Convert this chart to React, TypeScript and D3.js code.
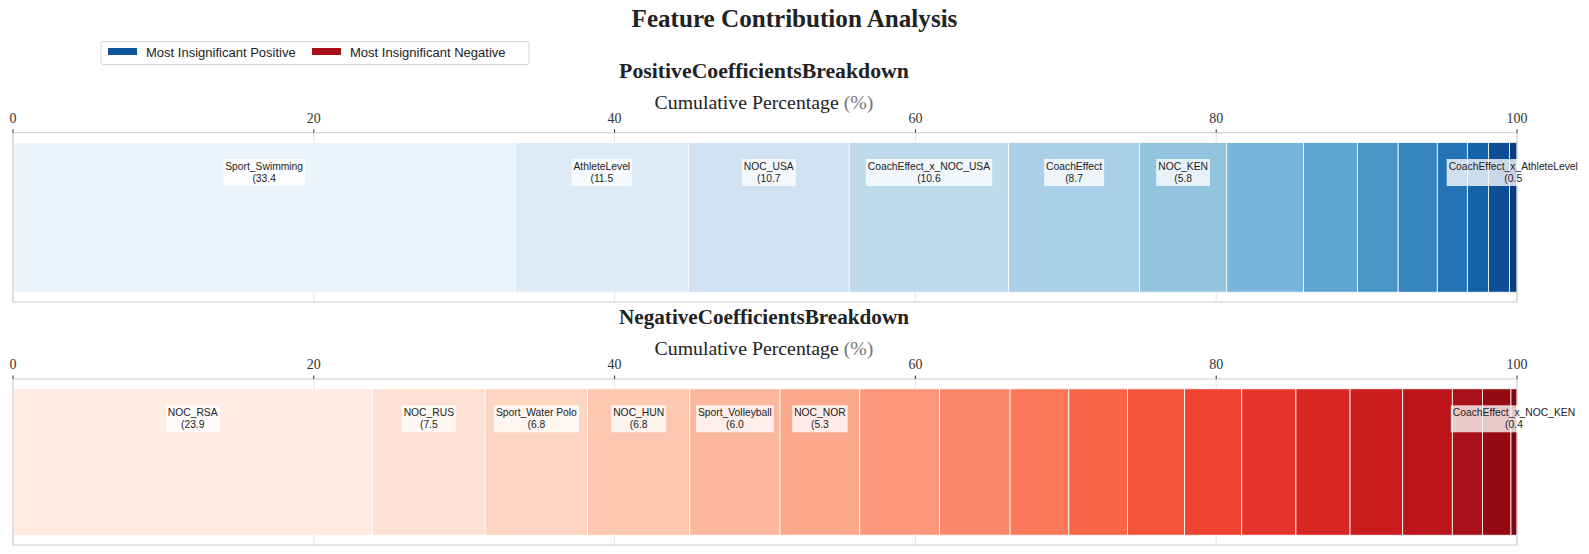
import React, { useEffect, useRef } from 'react';
import * as d3 from 'd3';

// share of each coefficient, in %, largest first (the last one is the "most insignificant")
const posNames = ['Sport_Swimming', 'AthleteLevel', 'NOC_USA', 'CoachEffect_x_NOC_USA', 'CoachEffect', 'NOC_KEN',
  '', '', '', '', '', '', '', 'CoachEffect_x_AthleteLevel'];
const posValues = [33.4, 11.5, 10.7, 10.6, 8.7, 5.8, 5.1, 3.6, 2.7, 2.6, 2.0, 1.4, 1.4, 0.5];

const negNames = ['NOC_RSA', 'NOC_RUS', 'Sport_Water Polo', 'NOC_HUN', 'Sport_Volleyball', 'NOC_NOR',
  '', '', '', '', '', '', '', '', '', '', '', '', 'CoachEffect_x_NOC_KEN'];
const negValues = [23.9, 7.5, 6.8, 6.8, 6.0, 5.3, 5.3, 4.7, 3.9, 3.9, 3.8, 3.8, 3.6, 3.6, 3.5, 3.3, 2.0, 1.9, 0.4];

const xTicks = [0, 20, 40, 60, 80, 100];
const legendLabels = ['Most Insignificant Positive', 'Most Insignificant Negative'];

const W = 1589;
const H = 554;
const SERIF = '"Liberation Serif", "DejaVu Serif", serif';
const SANS = '"Liberation Sans", Arial, sans-serif';

// shrink/grow a text node's font so it spans the wanted width
function fit(t: d3.Selection<SVGTextElement, unknown, null, undefined>, width: number, base: number) {
  t.attr('font-size', base);
  const w = (t.node() as SVGTextElement).getComputedTextLength();
  const size = w > 0 ? (base * width) / w : base;
  t.attr('font-size', size);
  return size;
}

export default function App() {
  const ref = useRef<SVGSVGElement>(null);

  useEffect(() => {
    if (!ref.current) return;
    const svg = d3.select(ref.current);
    svg.selectAll('*').remove();

    const x = d3.scaleLinear().domain([0, 100]).range([13, 1517]);

    const title = svg.append('text')
      .attr('x', W / 2).attr('y', 27)
      .attr('text-anchor', 'middle').attr('font-family', SERIF).attr('font-weight', 'bold')
      .attr('fill', '#222').text('Feature Contribution Analysis');
    fit(title, 326, 20);

    // legend
    const lg = svg.append('g');
    lg.append('rect').attr('x', 101).attr('y', 41.5).attr('width', 428).attr('height', 23)
      .attr('rx', 2).attr('fill', '#fff').attr('stroke', '#cccccc').attr('stroke-width', 0.8);
    const legendColors = [d3.interpolateBlues(0.86), d3.interpolateReds(0.86)];
    const legendX = [108, 312];
    let legendSize = 12;
    legendLabels.forEach((lab, i) => {
      lg.append('rect').attr('x', legendX[i]).attr('y', 48).attr('width', 29).attr('height', 7)
        .attr('fill', legendColors[i]);
      const t = lg.append('text').attr('x', legendX[i] + 38).attr('y', 57)
        .attr('font-family', SANS).attr('fill', '#222').text(lab);
      if (i === 0) legendSize = fit(t, 150, 12);
      else t.attr('font-size', legendSize);
    });

    const panel = (
      names: string[], values: number[], interp: (t: number) => string,
      heading: string, top: number, bottom: number, titleY: number,
    ) => {
      const g = svg.append('g');
      const total = d3.sum(values);
      const cum = d3.cumsum(values).map((c) => (c / total) * 100);
      const starts = cum.map((c, i) => (i === 0 ? 0 : cum[i - 1]));
      const n = values.length;
      const color = (i: number) => interp(0.06 + (0.89 * i) / (n - 1));

      const h = g.append('text').attr('x', 764).attr('y', titleY)
        .attr('text-anchor', 'middle').attr('font-family', SERIF).attr('font-weight', 'bold')
        .attr('fill', '#222').text(heading);
      fit(h, 290, 18);

      const al = g.append('text').attr('x', 764).attr('y', titleY + 31)
        .attr('text-anchor', 'middle').attr('font-family', SERIF).attr('fill', '#222');
      al.append('tspan').text('Cumulative Percentage ');
      al.append('tspan').attr('fill', '#777').text('(%)');
      fit(al, 219, 17);

      // grid
      g.selectAll('line.grid').data(xTicks).enter().append('line')
        .attr('x1', (d) => x(d)).attr('x2', (d) => x(d))
        .attr('y1', top).attr('y2', bottom)
        .attr('stroke', '#dddddd').attr('stroke-width', 0.8);

      const barTop = top + 9.8;
      const barH = bottom - top - 19.6;
      g.selectAll('rect.seg').data(values).enter().append('rect')
        .attr('x', (_, i) => x(starts[i]))
        .attr('width', (_, i) => x(cum[i]) - x(starts[i]))
        .attr('y', barTop).attr('height', barH)
        .attr('fill', (_, i) => color(i))
        .attr('stroke', '#ffffff').attr('stroke-width', 0.8);

      // frame
      g.append('rect').attr('x', x(0)).attr('y', top).attr('width', x(100) - x(0))
        .attr('height', bottom - top).attr('fill', 'none').attr('stroke', '#cccccc').attr('stroke-width', 1);

      // ticks on top
      xTicks.forEach((d) => {
        g.append('line').attr('x1', x(d)).attr('x2', x(d)).attr('y1', top).attr('y2', top - 3.5)
          .attr('stroke', '#000').attr('stroke-width', 0.8);
        g.append('text').attr('x', x(d)).attr('y', top - 10).attr('text-anchor', 'middle')
          .attr('font-family', SERIF).attr('font-size', 14).attr('fill', '#333').text(d);
      });

      // labels: the six largest and the last one
      const lab = g.append('g');
      values.forEach((v, i) => {
        if (!(i < 6 || i === n - 1)) return;
        const cx = x((starts[i] + cum[i]) / 2);
        const cy = barTop + 30;
        const bg = lab.append('rect').attr('fill', '#ffffff').attr('fill-opacity', 0.78);
        const t = lab.append('text').attr('text-anchor', 'middle').attr('font-family', SANS)
          .attr('font-size', 10.3).attr('fill', '#222');
        t.append('tspan').attr('x', cx).attr('y', cy - 2.5).text(names[i]);
        t.append('tspan').attr('x', cx).attr('y', cy + 9.5).text(`(${v.toFixed(1)}`);
        const bb = (t.node() as SVGTextElement).getBBox();
        bg.attr('x', bb.x - 2).attr('y', cy - 13.5).attr('width', bb.width + 4).attr('height', 27);
      });
    };

    panel(posNames, posValues, d3.interpolateBlues, 'PositiveCoefficientsBreakdown', 132.7, 302, 78);
    panel(negNames, negValues, d3.interpolateReds, 'NegativeCoefficientsBreakdown', 379, 545, 324);
  }, []);

  return (
    <svg ref={ref} width={W} height={H} style={{ position: 'absolute', left: 0, top: 0, background: '#fff' }} />
  );
}
